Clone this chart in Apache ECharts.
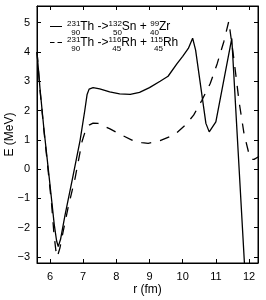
<!DOCTYPE html>
<html><head><meta charset="utf-8">
<script src="https://cdn.jsdelivr.net/npm/echarts@6/dist/echarts.min.js"></script>
<style>html,body{margin:0;padding:0;background:#fff}#c{width:266px;height:300px}</style>
</head><body><div id="c"></div>
<script>
// r (fm) and E (MeV) for the Sn + Zr channel (solid)
const snZrR = [5.61, 5.70, 5.82, 5.95, 6.05, 6.13, 6.20, 6.25, 6.32, 6.45, 6.67, 6.91, 7.05, 7.12, 7.18, 7.30, 7.50, 7.80, 8.10, 8.42, 8.70, 9.00, 9.32, 9.56, 9.83, 10.00, 10.17, 10.30, 10.39, 10.70, 10.80, 11.00, 11.48, 11.90];
const snZrE = [4.00, 2.75, 1.35, 0.00, -1.05, -1.90, -2.45, -2.65, -2.40, -1.60, -0.38, 0.99, 2.00, 2.55, 2.73, 2.78, 2.74, 2.64, 2.57, 2.55, 2.62, 2.78, 3.00, 3.17, 3.60, 3.85, 4.12, 4.47, 4.06, 1.56, 1.27, 1.61, 4.46, -4.00];
// r (fm) and E (MeV) for the Rh + Rh channel (dashed)
const rhRhR = [5.61, 5.70, 5.82, 5.95, 6.05, 6.12, 6.18, 6.22, 6.30, 6.39, 6.55, 6.76, 6.97, 7.08, 7.18, 7.30, 7.45, 7.81, 8.11, 8.47, 8.77, 8.96, 9.32, 9.60, 9.83, 10.08, 10.33, 10.58, 10.83, 11.04, 11.24, 11.39, 11.55, 11.70, 11.85, 11.98, 12.07, 12.15, 12.30];
const rhRhE = [4.00, 2.70, 1.30, -0.10, -1.20, -2.20, -2.80, -3.00, -2.70, -2.18, -1.30, -0.30, 0.95, 1.35, 1.50, 1.57, 1.56, 1.37, 1.19, 0.99, 0.90, 0.88, 0.97, 1.10, 1.25, 1.50, 1.84, 2.35, 2.92, 3.60, 4.35, 5.05, 3.70, 2.30, 1.20, 0.60, 0.33, 0.33, 0.43];

const xTicks = [6, 7, 8, 9, 10, 11, 12];
const yTicks = [-3, -2, -1, 0, 1, 2, 3, 4, 5];
const xRange = [5.61, 12.27];
const yRange = [-3.21, 5.57];
const seriesNames = ['231Th->132Sn+99Zr', '231Th->116Rh+115Rh'];
const legendRich = {
  '231Th->132Sn+99Zr': '{sup|231}{sub|90}{m|Th ->}{sup|132}{sub|50}{m|Sn + }{sup|99}{sub|40}{m|Zr}',
  '231Th->116Rh+115Rh': '{sup|231}{sub|90}{m|Th ->}{sup|116}{sub|45}{m|Rh + }{sup|115}{sub|45}{m|Rh}'
};
const xName = 'r (fm)';
const yName = 'E (MeV)';

const FONT = 'Liberation Sans, Arial, Helvetica, sans-serif';
const pairs = (xs, ys) => xs.map((x, i) => [x, ys[i]]);
const minus = v => String(v).replace('-', '\u2212');

const chart = echarts.init(document.getElementById('c'), null, {renderer: 'canvas'});
const tickCommon = {show: true, inside: true, length: 4, lineStyle: {color: '#000', width: 1}};
const lineCommon = {show: true, onZero: false, lineStyle: {color: '#000', width: 1}};

chart.setOption({
  animation: false,
  backgroundColor: '#fff',
  grid: {left: 37, top: 6, right: 8, bottom: 37, show: true, borderColor: '#000', borderWidth: 1,
         containLabel: false, outerBoundsMode: 'none'},
  legend: {
    orient: 'vertical', left: 50, top: 16, padding: 0, itemGap: -5,
    itemWidth: 12, itemHeight: 1.3,
    data: [
      {name: seriesNames[0], icon: 'path://M0,0h12v1h-12z', itemStyle: {color: '#000'}},
      {name: seriesNames[1], icon: 'path://M0,0h4.5v1h-4.5zM7.5,0h4.5v1h-4.5z', itemStyle: {color: '#000'}}
    ],
    formatter: n => legendRich[n],
    textStyle: {
      color: '#000', fontFamily: FONT,
      rich: {
        m: {fontSize: 12, lineHeight: 19, fontFamily: FONT, color: '#000'},
        sup: {fontSize: 8, lineHeight: 8, padding: [0, 0, 6, 0], fontFamily: FONT, color: '#000'},
        sub: {fontSize: 8, lineHeight: 6, padding: [13, 0, 0, -9], fontFamily: FONT, color: '#000'}
      }
    }
  },
  xAxis: [
    {type: 'value', min: xRange[0], max: xRange[1], position: 'bottom',
     name: xName, nameLocation: 'middle', nameGap: 21, nameMoveOverlap: false,
     nameTextStyle: {fontFamily: FONT, fontSize: 12, color: '#000'},
     axisLine: lineCommon, splitLine: {show: false},
     axisTick: Object.assign({customValues: xTicks}, tickCommon),
     axisLabel: {customValues: xTicks, margin: 8, fontFamily: FONT, fontSize: 11, color: '#000'}},
    {type: 'value', min: xRange[0], max: xRange[1], position: 'top',
     axisLine: lineCommon, splitLine: {show: false},
     axisTick: Object.assign({customValues: xTicks}, tickCommon),
     axisLabel: {show: false}}
  ],
  yAxis: [
    {type: 'value', min: yRange[0], max: yRange[1], position: 'left',
     name: yName, nameLocation: 'middle', nameGap: 21, nameRotate: 90, nameMoveOverlap: false,
     nameTextStyle: {fontFamily: FONT, fontSize: 12, color: '#000'},
     axisLine: lineCommon, splitLine: {show: false},
     axisTick: Object.assign({customValues: yTicks}, tickCommon),
     axisLabel: {customValues: yTicks, margin: 7, formatter: minus, fontFamily: FONT, fontSize: 11, color: '#000'}},
    {type: 'value', min: yRange[0], max: yRange[1], position: 'right',
     axisLine: lineCommon, splitLine: {show: false},
     axisTick: Object.assign({customValues: yTicks}, tickCommon),
     axisLabel: {show: false}}
  ],
  series: [
    {name: seriesNames[0], type: 'line', data: pairs(snZrR, snZrE), xAxisIndex: 0, yAxisIndex: 0,
     symbol: 'none', clip: true, lineStyle: {color: '#000', width: 1.3, type: 'solid'}, itemStyle: {color: '#000'}},
    {name: seriesNames[1], type: 'line', data: pairs(rhRhR, rhRhE), xAxisIndex: 0, yAxisIndex: 0,
     symbol: 'none', clip: true, lineStyle: {color: '#000', width: 1.3, type: [10, 9]}, itemStyle: {color: '#000'}}
  ]
});
</script>
</body></html>
